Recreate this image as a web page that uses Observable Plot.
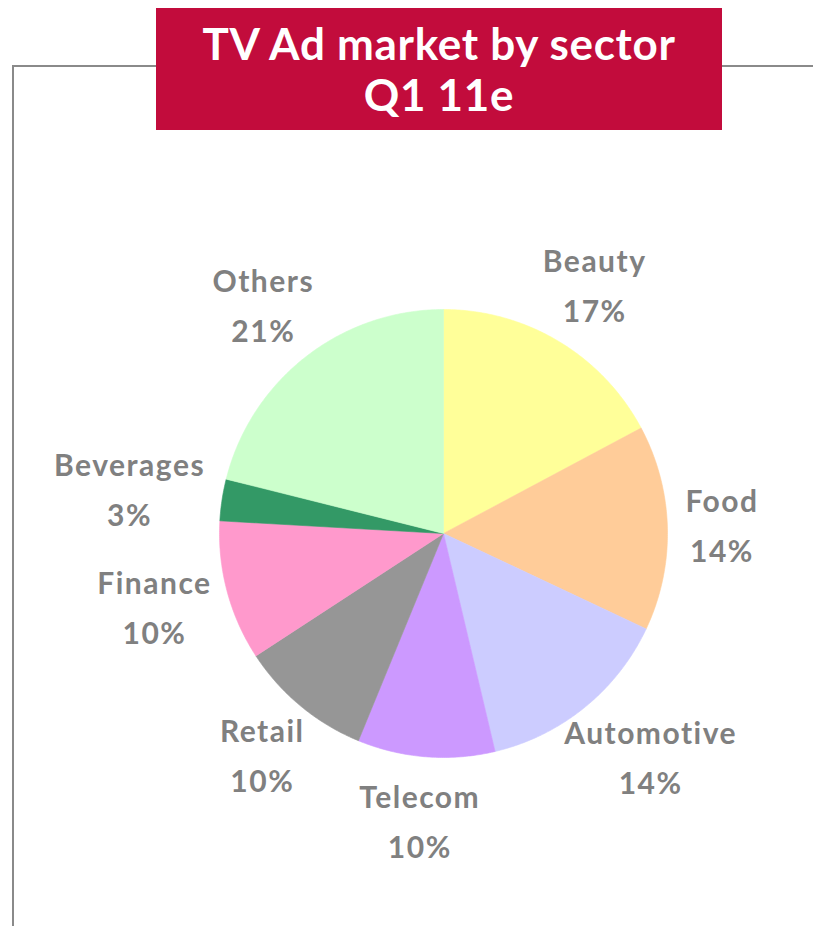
<!DOCTYPE html>
<html><head><meta charset="utf-8">
<script src="https://cdn.jsdelivr.net/npm/d3@7"></script>
<script src="https://cdn.jsdelivr.net/npm/@observablehq/plot@0.6"></script>
<style>
html,body{margin:0;padding:0;background:#fff;}
#wrap{position:relative;width:813px;height:926px;overflow:hidden;font-family:Lato,sans-serif;}
#frame{position:absolute;left:12px;top:65px;width:900px;height:900px;border-top:2px solid #8a8a8a;border-left:2px solid #8a8a8a;}
#title{position:absolute;left:156px;top:8px;width:566px;height:122px;background:#C20C3C;color:#fff;font-family:Lato,sans-serif;font-weight:bold;font-size:44px;letter-spacing:0.7px;text-align:center;line-height:51px;display:flex;flex-direction:column;justify-content:center;z-index:2;}
#chart{position:absolute;left:0;top:0;z-index:1;}
#chart svg text{letter-spacing:1.5px;}
</style></head><body>
<div id="wrap"><div id="frame"></div><div id="chart"></div><div id="title"><div>TV Ad market by sector</div><div>Q1 11e</div></div></div>
<script>
// Data (clockwise from 12 o'clock)
const sectors = ["Beauty","Food","Automotive","Telecom","Retail","Finance","Beverages","Others"];
const shares = [17.2, 14.8, 14.3, 9.9, 9.6, 10.1, 3.0, 21.1];
const shareLabels = ["17%","14%","14%","10%","10%","10%","3%","21%"];
const colors = ["#FFFF99","#FFCC99","#CCCCFF","#CC99FF","#969696","#FF99CC","#339966","#CCFFCC"];

const W = 813, H = 926, cx = 443, cy = 533, R = 224;
const rows = sectors.map((s, i) => ({sector: s, share: shares[i], label: shareLabels[i]}));
const arcs = d3.pie().sort(null).value(d => d.share)(rows);

// wedge outlines in unit-radius coordinates
const pts = [];
for (const a of arcs) {
  const s = a.data.sector;
  pts.push({sector: s, x: 0, y: 0});
  const n = Math.max(2, Math.ceil((a.endAngle - a.startAngle) / (Math.PI / 360)));
  for (let k = 0; k <= n; k++) {
    const t = a.startAngle + (a.endAngle - a.startAngle) * k / n;
    pts.push({sector: s, x: Math.sin(t), y: Math.cos(t)});
  }
  pts.push({sector: s, x: 0, y: 0});
}

// label placement just outside the pie
const FS = 30, LS = 1.5;
const ctx = document.createElement("canvas").getContext("2d");
ctx.font = `bold ${FS}px Lato`;
const tw = t => ctx.measureText(t).width + LS * t.length;
const gapX = 18, gapY = 25, hh = 40;
const labels = arcs.map(a => {
  const m = (a.startAngle + a.endAngle) / 2;
  const w = Math.max(tw(a.data.sector), tw(a.data.label));
  return {
    text: a.data.sector + "\n" + a.data.label,
    x: (R + gapX + w / 2) * Math.sin(m) / R,
    y: (R + gapY + hh) * Math.cos(m) / R
  };
});

const chart = Plot.plot({
  width: W, height: H, margin: 0,
  style: {background: "transparent", fontFamily: "Lato, sans-serif", overflow: "visible"},
  x: {domain: [-cx / R, (W - cx) / R], axis: null},
  y: {domain: [-(H - cy) / R, cy / R], axis: null},
  color: {domain: sectors, range: colors},
  marks: [
    Plot.line(pts, {x: "x", y: "y", z: "sector", fill: "sector", stroke: "sector", strokeWidth: 0.6}),
    Plot.text(labels, {x: "x", y: "y", dy: -5, text: "text", fill: "#808080", fontSize: FS, fontWeight: "bold", lineHeight: 1.67, fontFamily: "Lato, sans-serif"})
  ]
});
document.getElementById("chart").appendChild(chart);
</script>
</body></html>
